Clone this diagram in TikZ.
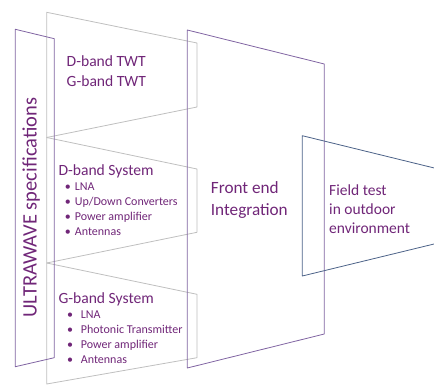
\documentclass[tikz,border=0pt]{standalone}
\usepackage{fontspec}
\setmainfont{Carlito}
\usetikzlibrary{positioning}
\definecolor{txtpurple}{RGB}{112,38,120}
\definecolor{linepurple}{RGB}{128,100,162}
\definecolor{linegray}{RGB}{191,191,191}
\definecolor{lineblue}{RGB}{76,98,136}
\newcommand{\blt}[1][10pt]{\makebox[#1][l]{•}}
\tikzset{
  stage/.style={draw=linepurple, line width=0.8pt, line join=round},
  block/.style={draw=linegray, line width=0.8pt, line join=round},
  field/.style={draw=lineblue, line width=0.8pt, line join=round},
  label/.style={text=txtpurple, inner sep=0pt, anchor=base west, align=left},
}

\begin{document}
\begin{tikzpicture}[x=1pt,y=-1pt]
  \clip (0,0) rectangle (434,385);
  % sub-system blocks
  \draw[block] (46.7,12.3) -- (197,43) -- (197,107) -- (46.7,137.5) -- cycle;
  \draw[block] (46.7,137.5) -- (197,169) -- (197,232.3) -- (46.7,263) -- cycle;
  \draw[block] (46.7,263) -- (197,294.3) -- (197,357.7) -- (46.7,384) -- cycle;
  % stages
  \draw[stage] (15.3,29.3) -- (54.3,38.7) -- (54.3,357.7) -- (15.3,366.7) -- cycle;
  \draw[stage] (187.3,30) -- (324.3,64) -- (324.3,334) -- (187.3,368) -- cycle;
  \draw[field] (302.3,135.7) -- (460,174.3) -- (460,237.7) -- (302.3,276) -- cycle;

  % texts (base = last line)
  \node[text=txtpurple, inner sep=0pt, font=\fontsize{20.5}{24}\selectfont,
        rotate=90, anchor=base] (spec) at (36.7,207.5) {ULTRAWAVE specifications};
  \node[label, font=\fontsize{15.6}{19.5}\selectfont] (twt) at (66.5,86.5)
    {D-band TWT\\G-band TWT};
  \node[label, font=\fontsize{15.6}{19}\selectfont] (dband) at (58.3,175.7) {D-band System};
  \node[label, font=\fontsize{12}{15}\selectfont] (dlist) at (64.7,235.5)
    {\blt LNA\\\blt Up/Down Converters\\\blt Power amplifier\\\blt Antennas};
  \node[label, font=\fontsize{15.6}{19}\selectfont] (gband) at (58.3,303.5) {G-band System};
  \node[label, font=\fontsize{12}{15}\selectfont] (glist) at (67,363.8)
    {\blt[13.7pt]LNA\\\blt[13.7pt]Photonic Transmitter\\\blt[13.7pt]Power amplifier\\\blt[13.7pt]Antennas};
  \node[label, font=\fontsize{17.2}{21.7}\selectfont] (front) at (210.7,215.5)
    {Front end\\Integration};
  \node[label, font=\fontsize{15.5}{19}\selectfont] (test) at (329,233.7)
    {Field test\\in outdoor\\environment};
\end{tikzpicture}
\end{document}
